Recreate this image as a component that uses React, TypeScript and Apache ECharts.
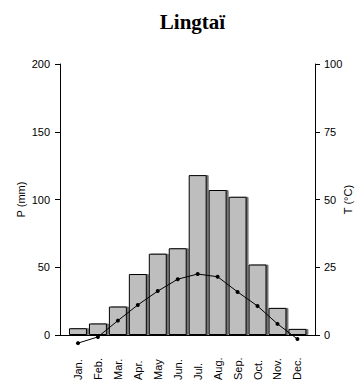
import React, { useEffect, useRef } from "react";
import * as echarts from "echarts";

const months = ["Jan.", "Feb.", "Mar.", "Apr.", "May", "Jun.", "Jul.", "Aug.", "Sep.", "Oct.", "Nov.", "Dec."];
const precip = [5, 8.5, 21, 45, 60, 64, 118, 107, 102, 52, 20, 4.5];
const temp = [-3, -0.7, 5.3, 11.1, 16.2, 20.6, 22.5, 21.5, 15.9, 10.7, 4.1, -1.5];
const pTicks = { min: 0, max: 200, interval: 50 };
const tTicks = { min: 0, max: 100, interval: 25 };

const FONT = "'Liberation Sans', Arial, sans-serif";

export default function App() {
  const ref = useRef<HTMLDivElement>(null);
  useEffect(() => {
    document.body.style.margin = "0";
    const chart = echarts.init(ref.current!, null, { renderer: "svg" });
    const axisCommon = {
      axisLine: { show: true, lineStyle: { color: "#000", width: 1 } },
      axisTick: { show: true, length: 5, lineStyle: { color: "#000" } },
      splitLine: { show: false },
      nameLocation: "middle" as const,
      nameRotate: 90,
      nameMoveOverlap: false,
      nameTextStyle: { fontFamily: FONT, fontSize: 11, color: "#000" },
    };
    chart.setOption({
      animation: false,
      backgroundColor: "#fff",
      title: {
        text: "Lingtaï",
        left: 187.5,
        textAlign: "center",
        top: 6,
        textStyle: { fontFamily: "'Liberation Serif', 'Times New Roman', serif", fontWeight: "bold", fontSize: 21, color: "#000" },
      },
      grid: [
        { left: 60, right: 41, top: 64, bottom: 47, containLabel: false, outerBoundsMode: "none" },
        { left: 68, right: 48.6, top: 64, bottom: 47, containLabel: false, outerBoundsMode: "none" },
      ],
      xAxis: [
        {
          gridIndex: 0,
          type: "value",
          min: 0,
          max: 1,
          axisLine: { show: true, lineStyle: { color: "#000", width: 1 } },
          axisTick: { show: false },
          axisLabel: { show: false },
          splitLine: { show: false },
        },
        {
          gridIndex: 1,
          type: "category",
          data: months,
          axisLine: { show: false },
          axisTick: { show: false },
          axisLabel: {
            rotate: 90,
            align: "left",
            verticalAlign: "middle",
            margin: 45,
            interval: 0,
            fontFamily: FONT,
            fontSize: 11,
            color: "#000",
          },
        },
      ],
      yAxis: [
        {
          ...axisCommon,
          gridIndex: 0,
          type: "value",
          position: "left",
          ...pTicks,
          name: "P (mm)",
          nameGap: 34,
          axisLabel: { margin: 10, fontFamily: FONT, fontSize: 11, color: "#000" },
        },
        {
          ...axisCommon,
          gridIndex: 0,
          type: "value",
          position: "right",
          ...tTicks,
          name: "T (°C)",
          nameGap: 27,
          axisLabel: { margin: 9, fontFamily: FONT, fontSize: 11, color: "#000" },
        },
        { gridIndex: 1, type: "value", ...pTicks, show: false },
        { gridIndex: 1, type: "value", ...tTicks, show: false },
      ],
      series: [
        {
          type: "bar",
          xAxisIndex: 1,
          yAxisIndex: 2,
          data: precip,
          barCategoryGap: "10%",
          itemStyle: {
            color: "#bebebe",
            borderColor: "#000",
            borderWidth: 1,
            shadowColor: "rgba(0,0,0,0.55)",
            shadowOffsetX: 2,
            shadowOffsetY: 0,
            shadowBlur: 0,
          },
        },
        {
          type: "line",
          xAxisIndex: 1,
          yAxisIndex: 3,
          data: temp,
          clip: false,
          symbol: "circle",
          symbolSize: 4,
          z: 5,
          lineStyle: { color: "#000", width: 1 },
          itemStyle: { color: "#000" },
        },
      ],
    });
    return () => chart.dispose();
  }, []);
  return <div ref={ref} style={{ width: 356, height: 382 }} />;
}
